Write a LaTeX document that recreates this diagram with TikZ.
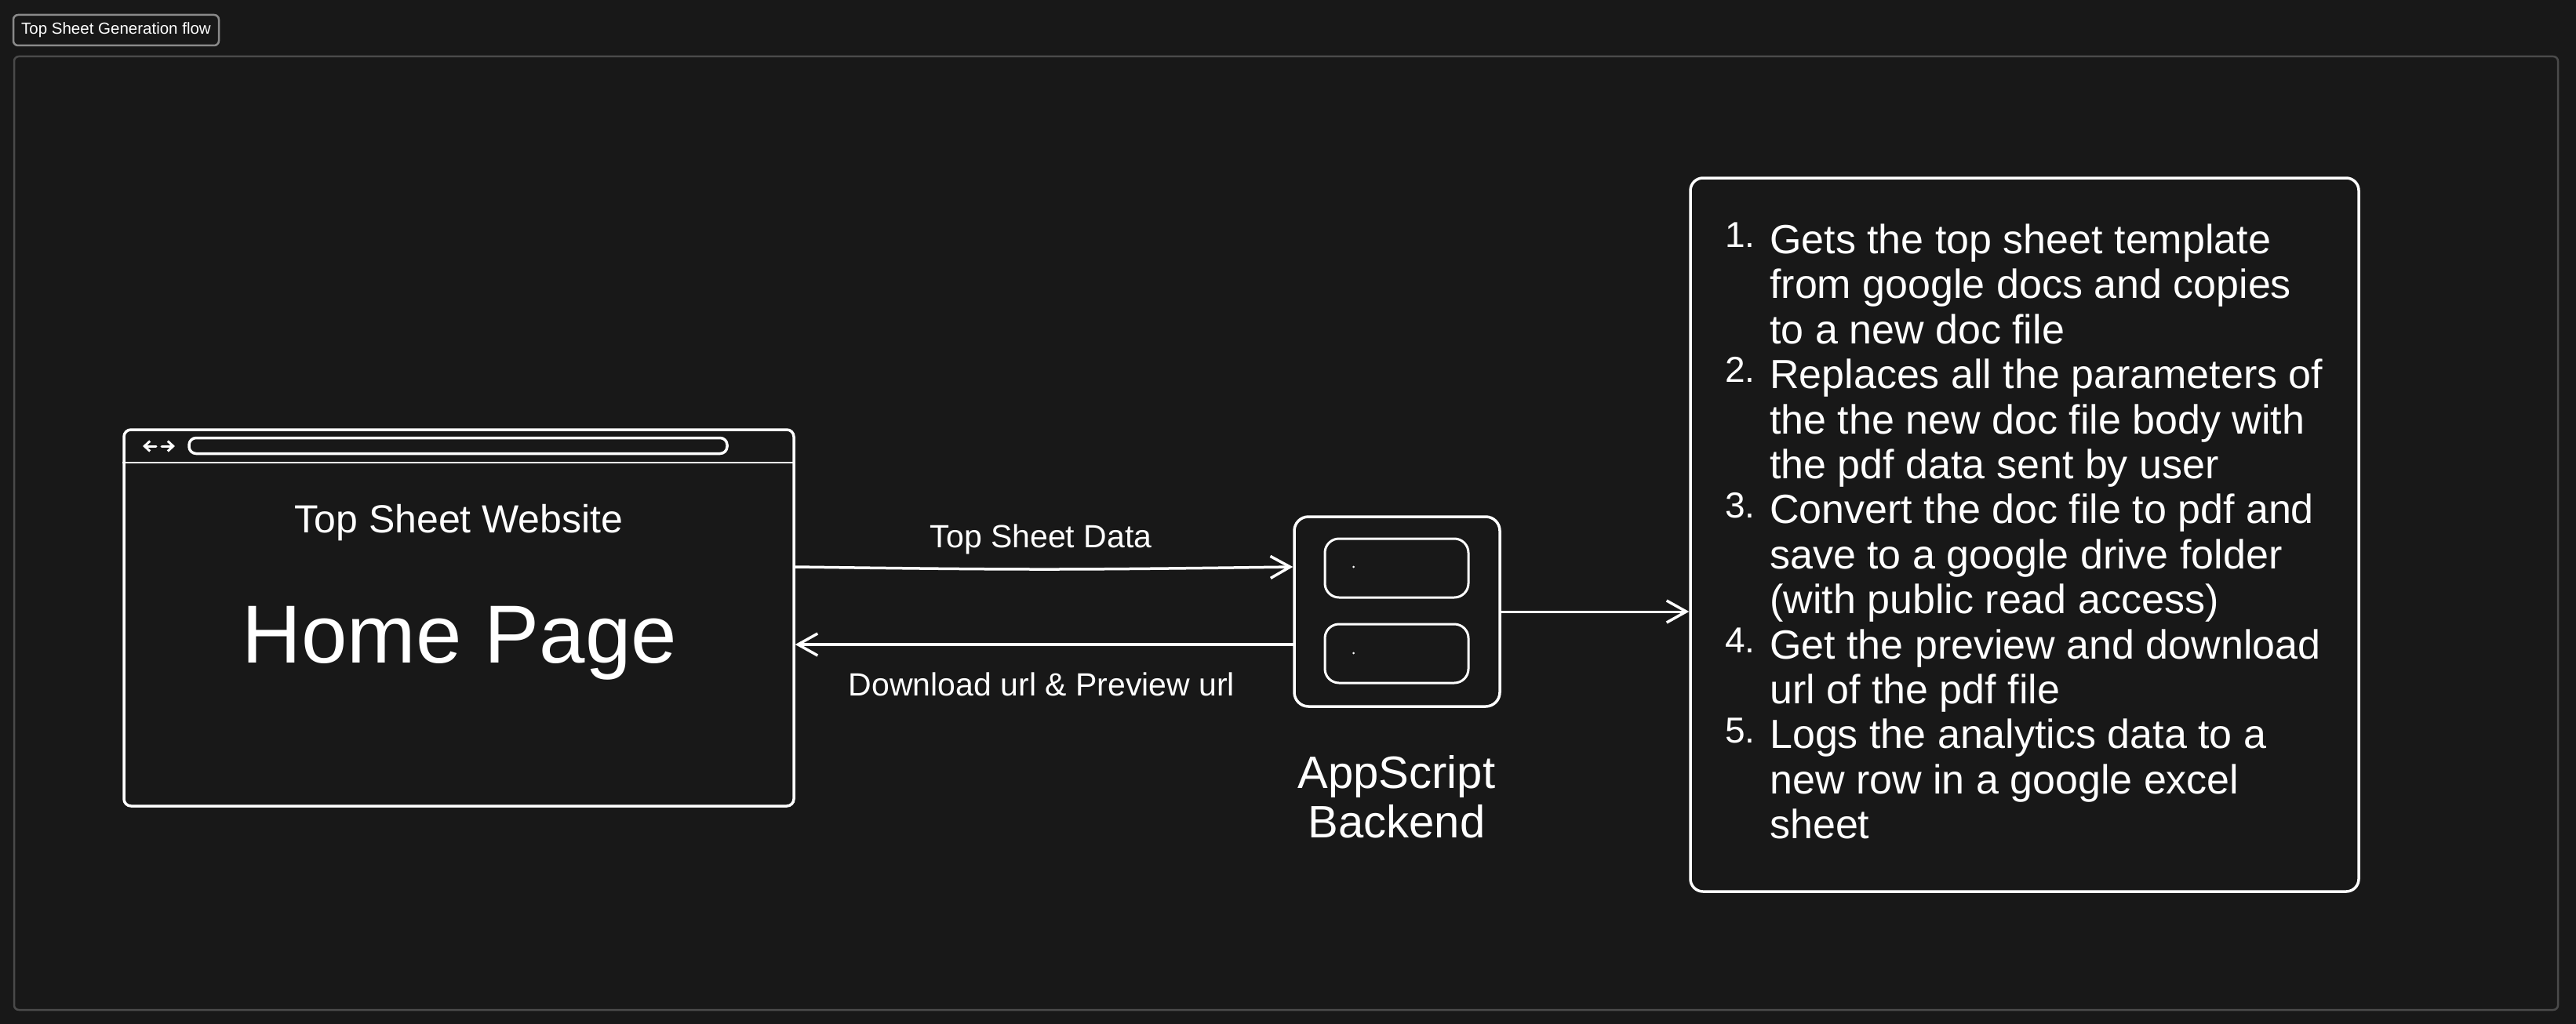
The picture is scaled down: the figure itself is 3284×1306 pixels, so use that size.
\documentclass[tikz,border=0pt]{standalone}
\usepackage{fontspec}
\setmainfont{Liberation Sans}
\usetikzlibrary{arrows.meta,calc}
\definecolor{bgc}{HTML}{181818}
\definecolor{framec}{HTML}{4A4A4A}
\definecolor{tagc}{HTML}{8A8A8A}
\newcommand{\fs}[1]{\fontsize{#1pt}{#1pt}\selectfont}
\tikzset{
  sk/.style={draw=white,line width=3.5pt,rounded corners=9pt,inner sep=0pt,fill=none},
  lbl/.style={text=white,inner sep=0pt,font=\fs{41}},
  steptext/.style={text=white,inner sep=0pt,anchor=base west,font=\fs{52}},
  stepnum/.style={text=white,inner sep=0pt,anchor=base west,font=\fs{46}},
  conn/.style={draw=white,line width=3.5pt,line cap=round,-{Straight Barb[length=25pt,width=28pt,line width=3.5pt]}},
  navarrow/.style={draw=white,line width=3pt,line cap=round,-{Straight Barb[length=7pt,width=13pt,line width=3pt]}},
}
\begin{document}
\begin{tikzpicture}[x=1pt,y=-1pt]
\useasboundingbox (0,0) rectangle (3284,1306);
\fill[bgc] (0,0) rectangle (3284,1306);
% frame and tag
\node[draw=framec,line width=2.5pt,rounded corners=6pt,minimum width=3243pt,minimum height=1216pt,inner sep=0pt] (frame) at (1639.5,680) {};
\node[draw=tagc,line width=2.5pt,rounded corners=6pt,minimum width=262pt,minimum height=39pt,inner sep=0pt,text=white,font=\fs{20.5}] (tag) at (148,38.5) {Top Sheet Generation flow};
% browser
\node[sk,minimum width=854pt,minimum height=480pt] (browser) at (585,788) {};
\draw[white,line width=2.5pt] (browser.west |- 0,590) coordinate (divl) -- (browser.east |- 0,590) coordinate (divr);
\node[sk,minimum width=686pt,minimum height=20pt,rounded corners=9pt] (urlbar) at (584,568.5) {};
\coordinate (navl) at (199,569);
\coordinate (navr) at (206,569);
\draw[navarrow] (navl) -- +(-17,0);
\draw[navarrow] (navr) -- +(17,0);
\node[lbl,font=\fs{50}] (site) at (585,667) {Top Sheet Website};
\node[lbl,font=\fs{105}] (home) at (586,820) {Home Page};
% backend
\node[sk,rounded corners=18pt,minimum width=262pt,minimum height=242pt] (backend) at (1781,780) {};
\node[sk,line width=3pt,rounded corners=18pt,minimum width=183pt,minimum height=75pt] (inA) at (1780.5,724.5) {};
\node[sk,line width=3pt,rounded corners=18pt,minimum width=183pt,minimum height=75pt] (inB) at (1780.5,833.5) {};
\fill[white] (1725.5,723) circle (1.5pt);
\fill[white] (1725.5,833) circle (1.5pt);
\node[lbl,font=\fs{58},anchor=base] (app) at (1780.5,1005) {AppScript};
\node[lbl,font=\fs{58},anchor=base] (bk) at (1780.5,1068) {Backend};
% steps
\node[sk,rounded corners=16pt,minimum width=852pt,minimum height=910pt] (steps) at (2581,682) {};
\foreach \k/\t in {0/Gets the top sheet template,
1/from google docs and copies,
2/to a new doc file,
3/Replaces all the parameters of,
4/the the new doc file body with,
5/the pdf data sent by user,
6/Convert the doc file to pdf and,
7/save to a google drive folder,
8/(with public read access),
9/Get the preview and download,
10/url of the pdf file,
11/Logs the analytics data to a,
12/new row in a google excel,
13/sheet}{
  \node[steptext] (line\k) at (2256,323.5+57.4*\k) {\t};
}
\node[stepnum] (n1) at (2199,315) {1.};
\node[stepnum] (n2) at (2199,487.5) {2.};
\node[stepnum] (n3) at (2199,660) {3.};
\node[stepnum] (n4) at (2199,832) {4.};
\node[stepnum] (n5) at (2199,947) {5.};
% connectors
\draw[conn] ([yshift=57pt]backend.west -| browser.east) .. controls +(300,4) and +(-300,4) .. ([yshift=57pt]backend.west);
\draw[conn] ([yshift=-42pt]backend.west) -- ([yshift=-42pt]backend.west -| browser.east);
\draw[conn,line width=3pt] (backend.east) -- (backend.east -| steps.west);
\node[lbl] (lab1) at (1327,688) {Top Sheet Data};
\node[lbl] (lab2) at (1328,873) {Download url \& Preview url};
\end{tikzpicture}
\end{document}
